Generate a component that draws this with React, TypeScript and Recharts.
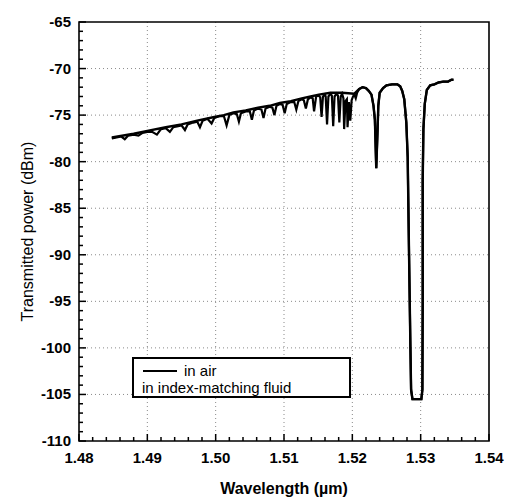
import React from 'react';
import { LineChart, Line, XAxis, YAxis, CartesianGrid, Legend, ReferenceArea } from 'recharts';

const FONT = "'Liberation Sans', Arial, Helvetica, sans-serif";
const AIR = 'in air';
const FLUID = 'in index-matching fluid';

const xMajorTicks = [1.48, 1.49, 1.5, 1.51, 1.52, 1.53, 1.54];
const yMajorTicks = [-110, -105, -100, -95, -90, -85, -80, -75, -70, -65];
const xGridValues = [1.49, 1.5, 1.51, 1.52, 1.53];
const yGridValues = [-105, -100, -95, -90, -85, -80, -75, -70];

const xTicks: number[] = [];
for (let i = 0; i <= 30; i++) xTicks.push(+(1.48 + i * 0.002).toFixed(3));
const yTicks: number[] = [];
for (let v = -110; v <= -65; v++) yTicks.push(v);

// in air: periodic cladding-mode dips
const airWavelength = [
  1.4848, 1.4855, 1.4862, 1.4867, 1.4872, 1.488, 1.4887, 1.4893, 1.49, 1.4907,
  1.4914, 1.492, 1.4927, 1.4933, 1.4938, 1.4945, 1.495, 1.4955, 1.4959, 1.4967,
  1.4973, 1.4977, 1.4981, 1.4988, 1.4994, 1.4998, 1.5006, 1.5012, 1.5016, 1.502,
  1.5026, 1.5031, 1.5034, 1.5037, 1.5044, 1.505, 1.5053, 1.5056, 1.5062, 1.5067,
  1.507, 1.5073, 1.5079, 1.5083, 1.5086, 1.5089, 1.5094, 1.5098, 1.5101, 1.5104,
  1.511, 1.5115, 1.5118, 1.5121, 1.5126, 1.5129, 1.5132, 1.5135, 1.5139, 1.5142,
  1.5144, 1.5147, 1.5151, 1.5153, 1.5155, 1.5157, 1.516, 1.5161, 1.5163, 1.5165,
  1.5168, 1.517, 1.5172, 1.5174, 1.5177, 1.5179, 1.5181, 1.5183, 1.5185, 1.5187,
  1.5188, 1.519, 1.5192, 1.5193, 1.5195, 1.5197, 1.5199, 1.5201, 1.5203, 1.5205,
  1.5207, 1.521, 1.5215, 1.522, 1.5224, 1.5228, 1.5231, 1.5233, 1.5235, 1.5237,
  1.5238, 1.524, 1.5245, 1.525, 1.5258, 1.5266, 1.527, 1.5273, 1.5276, 1.5279,
  1.5281, 1.5283, 1.5285, 1.5286, 1.5288, 1.5301, 1.53025, 1.5303, 1.5303, 1.5304,
  1.5306, 1.5309, 1.5314, 1.532, 1.5326, 1.5333, 1.534, 1.5345, 1.5348,
];
const airPower = [
  -77.5, -77.4, -77.3, -77.6, -77.2, -77.1, -77.2, -76.9, -76.8, -76.8,
  -77.1, -76.5, -76.4, -76.8, -76.3, -76.2, -76.1, -76.6, -76.0, -75.8,
  -75.7, -76.3, -75.6, -75.4, -75.9, -75.3, -75.1, -75.1, -76.1, -75.0,
  -74.8, -74.9, -75.7, -74.8, -74.6, -74.6, -75.5, -74.5, -74.3, -74.4,
  -75.3, -74.3, -74.1, -74.2, -75.0, -74.0, -73.8, -73.9, -74.8, -73.8,
  -73.6, -73.6, -74.4, -73.5, -73.3, -73.4, -74.3, -73.3, -73.1, -73.2,
  -74.6, -73.0, -72.9, -73.1, -75.2, -73.0, -72.8, -73.0, -76.0, -73.0,
  -72.7, -72.9, -76.2, -73.0, -72.7, -72.9, -75.8, -73.0, -72.7, -73.2,
  -76.5, -73.5, -73.3, -76.3, -73.6, -75.6, -73.4, -73.0, -72.8, -73.2,
  -72.6, -72.2, -72.0, -72.1, -72.4, -72.8, -74.0, -75.5, -80.7, -76.5,
  -74.0, -72.6, -72.1, -71.8, -71.7, -71.7, -71.9, -72.4, -73.3, -75.8,
  -79.5, -90.0, -100.0, -104.5, -105.5, -105.5, -104.5, -95.0, -82.0, -76.5,
  -73.8, -72.3, -71.8, -71.7, -71.5, -71.4, -71.4, -71.2, -71.2,
];

// in index-matching fluid: smooth trace without cladding-mode dips
const fluidWavelength = [
  1.4848, 1.488, 1.49, 1.4927, 1.495, 1.4973, 1.4998, 1.5012, 1.5026, 1.5044,
  1.5062, 1.5079, 1.5094, 1.511, 1.5126, 1.5139, 1.5151, 1.5168, 1.5185, 1.5203,
  1.521, 1.5215, 1.522, 1.5224, 1.5228, 1.5231, 1.5233, 1.5235, 1.5237, 1.5238,
  1.524, 1.5245, 1.525, 1.5258, 1.5266, 1.527, 1.5273, 1.5276, 1.5279, 1.5281,
  1.5283, 1.5285, 1.5286, 1.5288, 1.5301, 1.53025, 1.5303, 1.5303, 1.5304, 1.5306,
  1.5309, 1.5314, 1.532, 1.5326, 1.5333, 1.534, 1.5345, 1.5348,
];
const fluidPower = [
  -77.4, -77.0, -76.7, -76.3, -76.0, -75.6, -75.2, -75.0, -74.7, -74.5,
  -74.2, -74.0, -73.7, -73.5, -73.2, -73.0, -72.8, -72.6, -72.6, -72.7,
  -72.2, -72.0, -72.1, -72.4, -72.8, -74.0, -75.5, -80.7, -76.5, -74.0,
  -72.6, -72.1, -71.8, -71.7, -71.7, -71.9, -72.4, -73.3, -75.8, -79.5,
  -90.0, -100.0, -104.5, -105.5, -105.5, -104.5, -95.0, -82.0, -76.5, -73.8,
  -72.3, -71.8, -71.7, -71.5, -71.4, -71.4, -71.2, -71.2,
];

const airData = airWavelength.map((wl, i) => ({ wl, p: airPower[i] }));
const fluidData = fluidWavelength.map((wl, i) => ({ wl, p: fluidPower[i] }));

const isMajor = (v: number, list: number[]) => list.some((m) => Math.abs(m - v) < 1e-9);

const XTick = (props: any) => {
  const x = Number(props.x);
  const y = Number(props.y);
  const v = Number(props.payload.value);
  const major = isMajor(v, xMajorTicks);
  const len = major ? 7 : 4;
  return (
    <g>
      <path d={`M${x},${y}L${x},${y - len}`} stroke="#000" strokeWidth={1.5} fill="none" />
      {major && (
        <text x={x} y={y + 22} textAnchor="middle" fontFamily={FONT} fontWeight="bold" fontSize={15} fill="#000">
          {v.toFixed(2)}
        </text>
      )}
    </g>
  );
};

const YTick = (props: any) => {
  const x = Number(props.x);
  const y = Number(props.y);
  const v = Number(props.payload.value);
  const major = isMajor(v, yMajorTicks);
  const len = major ? 7 : 4;
  return (
    <g>
      <path d={`M${x},${y}L${x + len},${y}`} stroke="#000" strokeWidth={1.5} fill="none" />
      {major && (
        <text x={x - 8} y={y + 5} textAnchor="end" fontFamily={FONT} fontWeight="bold" fontSize={15} fill="#000">
          {String(v)}
        </text>
      )}
    </g>
  );
};

const LegendContent = (props: any) => {
  const items = (props.payload || []) as any[];
  const names = items.map((it) => it.value as string);
  const airName = names.find((n) => n === AIR) || AIR;
  const fluidName = names.find((n) => n === FLUID) || FLUID;
  return (
    <div
      style={{
        width: 219,
        height: 41,
        boxSizing: 'border-box',
        border: '2px solid #000',
        background: '#fff',
        position: 'relative',
        fontFamily: FONT,
        fontSize: 15,
        lineHeight: '17px',
        color: '#000',
      }}
    >
      <div style={{ position: 'absolute', left: 9, top: 11, width: 34, height: 1.5, background: '#000' }} />
      <span style={{ position: 'absolute', left: 50, top: 3, whiteSpace: 'nowrap' }}>{airName}</span>
      <span style={{ position: 'absolute', left: 8, top: 20, whiteSpace: 'nowrap' }}>{fluidName}</span>
    </div>
  );
};

export default function App() {
  return (
    <div style={{ position: 'fixed', left: 0, top: 0, width: 505, height: 497, background: '#fff', overflow: 'hidden' }}>
      <LineChart width={505} height={497} margin={{ top: 22, right: 16, left: 0, bottom: 0 }}>
        <CartesianGrid
          horizontal
          vertical
          horizontalValues={yGridValues}
          verticalValues={xGridValues}
          stroke="#8a8a8a"
          strokeDasharray="1 3"
        />
        <XAxis
          dataKey="wl"
          type="number"
          domain={[1.48, 1.54]}
          ticks={xTicks}
          interval={0}
          allowDataOverflow
          height={56}
          tickSize={0}
          tickMargin={0}
          tickLine={false}
          axisLine={false}
          tick={XTick}
          label={{
            value: 'Wavelength (\u00b5m)',
            position: 'insideBottom',
            offset: 3,
            style: { fontFamily: FONT, fontWeight: 'bold', fontSize: 16, fill: '#000' },
          }}
        />
        <YAxis
          type="number"
          domain={[-110, -65]}
          ticks={yTicks}
          interval={0}
          allowDataOverflow
          width={79}
          tickSize={0}
          tickMargin={0}
          tickLine={false}
          axisLine={false}
          tick={YTick}
          label={{
            value: 'Transmitted power (dBm)',
            angle: -90,
            position: 'insideLeft',
            offset: 27,
            style: { textAnchor: 'middle', fontFamily: FONT, fontSize: 16, fill: '#000' },
          }}
        />
        <ReferenceArea x1={1.48} x2={1.54} y1={-110} y2={-65} fill="none" stroke="#000" strokeWidth={1.6} />
        <Line
          data={fluidData}
          dataKey="p"
          name={FLUID}
          type="linear"
          stroke="#000"
          strokeWidth={2.4}
          dot={false}
          isAnimationActive={false}
        />
        <Line
          data={airData}
          dataKey="p"
          name={AIR}
          type="linear"
          stroke="#000"
          strokeWidth={2.2}
          dot={false}
          isAnimationActive={false}
        />
        <Legend
          layout="horizontal"
          verticalAlign="middle"
          align="center"
          content={LegendContent}
          wrapperStyle={{ left: 132, top: 357, width: 219, height: 41 }}
        />
      </LineChart>
    </div>
  );
}
